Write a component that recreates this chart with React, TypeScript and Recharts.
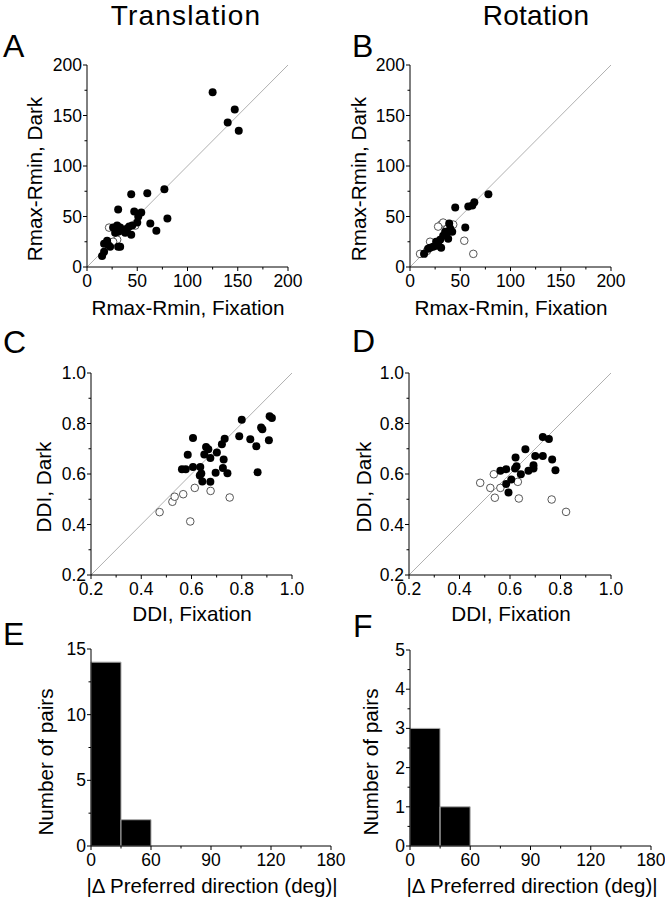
import React from "react";
import { ScatterChart, Scatter, XAxis, YAxis, ReferenceLine, BarChart, Bar } from "recharts";

const FONT = "'Liberation Sans', Arial, Helvetica, sans-serif";

// A: translation, Rmax-Rmin (fixation, dark)
const transAmpFilled = [
  [125, 173], [147, 156], [140, 143], [151, 135], [77, 77], [80, 48], [44, 72], [60, 73],
  [31, 57], [47, 55], [54, 54], [51, 50], [50, 44], [63, 43], [69, 36], [15, 11], [17, 15],
  [17, 23], [20, 26], [23, 20], [31, 20], [33, 20], [26, 39], [30, 41], [31, 35], [35, 37],
  [40, 38], [42, 40], [38, 34], [44, 32], [28, 34], [33, 39], [45, 41], [36, 36], [21, 22], [29, 37],
];
const transAmpOpen = [[22, 39], [30, 27], [48, 41], [26, 25]];

// B: rotation, Rmax-Rmin
const rotAmpFilled = [
  [78, 72], [64, 64], [62, 61], [58, 60], [45, 59], [55, 39], [39, 43], [35, 35], [42, 35],
  [38, 28], [30, 27], [31, 19], [26, 21], [20, 19], [14, 13], [18, 18], [26, 25], [33, 31],
  [36, 33], [23, 20], [28, 22], [40, 38],
];
const rotAmpOpen = [[63, 13], [54, 26], [31, 42], [33, 44], [43, 42], [10, 13], [20, 25], [17, 16], [28, 40]];

// C: translation, DDI
const transDdiFilled = [
  [0.911, 0.829], [0.92, 0.822], [0.8, 0.815], [0.877, 0.784], [0.882, 0.777], [0.79, 0.75],
  [0.834, 0.738], [0.908, 0.734], [0.858, 0.71], [0.863, 0.607], [0.606, 0.743], [0.732, 0.74],
  [0.721, 0.718], [0.658, 0.707], [0.667, 0.698], [0.585, 0.676], [0.651, 0.677], [0.701, 0.685],
  [0.675, 0.663], [0.728, 0.657], [0.562, 0.619], [0.577, 0.619], [0.606, 0.628], [0.635, 0.628],
  [0.725, 0.624], [0.633, 0.594], [0.639, 0.602], [0.696, 0.605], [0.743, 0.603], [0.643, 0.57],
  [0.675, 0.569],
];
const transDdiOpen = [
  [0.473, 0.449], [0.524, 0.49], [0.533, 0.51], [0.567, 0.52], [0.613, 0.545], [0.676, 0.533],
  [0.752, 0.507], [0.595, 0.412],
];

// D: rotation, DDI
const rotDdiFilled = [
  [0.73, 0.747], [0.754, 0.739], [0.661, 0.698], [0.7, 0.671], [0.73, 0.671], [0.767, 0.657],
  [0.78, 0.615], [0.622, 0.665], [0.626, 0.631], [0.62, 0.622], [0.693, 0.635], [0.693, 0.622],
  [0.673, 0.613], [0.643, 0.599], [0.585, 0.619], [0.562, 0.613], [0.605, 0.578], [0.585, 0.56],
  [0.594, 0.527],
];
const rotDdiOpen = [
  [0.482, 0.565], [0.536, 0.599], [0.522, 0.545], [0.562, 0.545], [0.54, 0.506], [0.631, 0.569],
  [0.635, 0.503], [0.765, 0.499], [0.822, 0.45],
];

const ampTicks = [0, 25, 50, 75, 100, 125, 150, 175, 200];
const ampMajor = [0, 50, 100, 150, 200];
const ddiTicks = [0.2, 0.3, 0.4, 0.5, 0.6, 0.7, 0.8, 0.9, 1.0];
const ddiMajor = [0.2, 0.4, 0.6, 0.8, 1.0];

// E, F: histograms (bins are 30 axis units wide, as drawn)
const histBinCenters = [15, 45, 75, 105, 135, 165, 195, 225];
const transPairs = [14, 2, 0, 0, 0, 0, 0, 0];
const rotPairs = [3, 1, 0, 0, 0, 0, 0, 0];
const histXTicks = [0, 30, 60, 90, 120, 150, 180, 210, 240];
const histXMajor = [0, 60, 120, 180, 240];
const histXLabels = ["0", "60", "90", "120", "180"];
const transCountTicks = [0, 2.5, 5, 7.5, 10, 12.5, 15];
const transCountMajor = [0, 5, 10, 15];
const rotCountTicks = [0, 0.5, 1, 1.5, 2, 2.5, 3, 3.5, 4, 4.5, 5];
const rotCountMajor = [0, 1, 2, 3, 4, 5];

const TICK_FS = 17.5;
const LABEL_FS = 20.7;

const isIn = (list: number[], v: number) => list.some((m) => Math.abs(m - v) < 1e-6);

function makeXTick(major: number[], fmt: (v: number) => string) {
  return (props: any) => {
    const { x, y, payload } = props;
    const v = payload.value;
    const big = isIn(major, v);
    return (
      <g>
        <line x1={x} x2={x} y1={y} y2={y + (big ? 4 : 2.5)} stroke="#000" strokeWidth={1} />
        {big && (
          <text x={x} y={y + 20} textAnchor="middle" fontSize={TICK_FS} fontFamily={FONT} fill="#000">
            {fmt(v)}
          </text>
        )}
      </g>
    );
  };
}

function makeYTick(major: number[], fmt: (v: number) => string) {
  return (props: any) => {
    const { x, y, payload } = props;
    const v = payload.value;
    const big = isIn(major, v);
    return (
      <g>
        <line x1={x - (big ? 4 : 2.5)} x2={x} y1={y} y2={y} stroke="#000" strokeWidth={1} />
        {big && (
          <text x={x - 5} y={y + 6} textAnchor="end" fontSize={TICK_FS} fontFamily={FONT} fill="#000">
            {fmt(v)}
          </text>
        )}
      </g>
    );
  };
}

const Dot = (p: any) => <circle cx={p.cx} cy={p.cy} r={4} fill="#000" />;
const Ring = (p: any) => <circle cx={p.cx} cy={p.cy} r={3.8} fill="#fff" stroke="#444" strokeWidth={0.9} />;

const toPts = (arr: number[][]) => arr.map(([x, y]) => ({ x, y }));

function ScatterPanel({ plot, filled, open, domain, ticks, major, fmt }: any) {
  const [x0, y0, x1, y1] = plot;
  return (
    <div style={{ position: "absolute", left: x0 - 70, top: y0 - 20 }}>
      <ScatterChart width={x1 - x0 + 110} height={y1 - y0 + 60} margin={{ top: 20, right: 40, bottom: 10, left: 20 }}>
        <XAxis
          type="number"
          dataKey="x"
          domain={domain}
          ticks={ticks}
          interval={0}
          height={30}
          tickSize={0}
          tickMargin={0}
          tickLine={false}
          axisLine={{ stroke: "#000", strokeWidth: 1 }}
          tick={makeXTick(major, fmt)}
        />
        <YAxis
          type="number"
          dataKey="y"
          domain={domain}
          ticks={ticks}
          interval={0}
          width={50}
          tickSize={0}
          tickMargin={0}
          tickLine={false}
          axisLine={{ stroke: "#000", strokeWidth: 1 }}
          tick={makeYTick(major, fmt)}
        />
        <ReferenceLine
          segment={[{ x: domain[0], y: domain[0] }, { x: domain[1], y: domain[1] }]}
          stroke="#b0b0b0"
          strokeWidth={1}
        />
        <Scatter data={toPts(open)} shape={Ring} isAnimationActive={false} />
        <Scatter data={toPts(filled)} shape={Dot} isAnimationActive={false} />
      </ScatterChart>
    </div>
  );
}

function HistPanel({ plot, counts, yDomain, yTicks, yMajor }: any) {
  const [x0, y0, x1, y1] = plot;
  const data = histBinCenters.map((c, i) => ({ x: c, n: counts[i] }));
  return (
    <div style={{ position: "absolute", left: x0 - 70, top: y0 - 20 }}>
      <BarChart
        width={x1 - x0 + 110}
        height={y1 - y0 + 60}
        data={data}
        barCategoryGap={0}
        barGap={0}
        margin={{ top: 20, right: 40, bottom: 10, left: 20 }}
      >
        <XAxis
          type="number"
          dataKey="x"
          domain={[0, 240]}
          ticks={histXTicks}
          interval={0}
          height={30}
          tickSize={0}
          tickMargin={0}
          tickLine={false}
          axisLine={{ stroke: "#000", strokeWidth: 1 }}
          tick={makeXTick(histXMajor, (v) => histXLabels[histXMajor.indexOf(v)])}
        />
        <YAxis
          type="number"
          domain={yDomain}
          ticks={yTicks}
          interval={0}
          width={50}
          tickSize={0}
          tickMargin={0}
          tickLine={false}
          axisLine={{ stroke: "#000", strokeWidth: 1 }}
          tick={makeYTick(yMajor, (v) => String(v))}
        />
        <Bar dataKey="n" fill="#000" stroke="#aaa" strokeWidth={1} isAnimationActive={false} />
      </BarChart>
    </div>
  );
}

const T = (props: any) => <text fontFamily={FONT} fill="#000" {...props} />;

export default function App() {
  const amp = (v: number) => String(v);
  const ddi = (v: number) => v.toFixed(1);
  return (
    <div style={{ position: "absolute", left: 0, top: 0, width: 665, height: 900, background: "#fff" }}>
      <ScatterPanel plot={[87, 65, 288, 267]} filled={transAmpFilled} open={transAmpOpen} domain={[0, 200]} ticks={ampTicks} major={ampMajor} fmt={amp} />
      <ScatterPanel plot={[410, 65, 611, 267]} filled={rotAmpFilled} open={rotAmpOpen} domain={[0, 200]} ticks={ampTicks} major={ampMajor} fmt={amp} />
      <ScatterPanel plot={[91, 373, 292, 575]} filled={transDdiFilled} open={transDdiOpen} domain={[0.2, 1.0]} ticks={ddiTicks} major={ddiMajor} fmt={ddi} />
      <ScatterPanel plot={[409, 373, 611, 575]} filled={rotDdiFilled} open={rotDdiOpen} domain={[0.2, 1.0]} ticks={ddiTicks} major={ddiMajor} fmt={ddi} />
      <HistPanel plot={[91, 649, 331, 846]} counts={transPairs} yDomain={[0, 15]} yTicks={transCountTicks} yMajor={transCountMajor} />
      <HistPanel plot={[410, 650, 651, 846]} counts={rotPairs} yDomain={[0, 5]} yTicks={rotCountTicks} yMajor={rotCountMajor} />

      <svg width={665} height={900} style={{ position: "absolute", left: 0, top: 0, pointerEvents: "none" }}>
        <T x={186} y={25} fontSize={28} textAnchor="middle" letterSpacing={1.2}>Translation</T>
        <T x={536} y={25} fontSize={28} textAnchor="middle" letterSpacing={0.3}>Rotation</T>

        <T x={3} y={57} fontSize={32}>A</T>
        <T x={352} y={57} fontSize={32}>B</T>
        <T x={3} y={353} fontSize={32}>C</T>
        <T x={352} y={352} fontSize={32}>D</T>
        <T x={3} y={645} fontSize={32}>E</T>
        <T x={353} y={637} fontSize={32}>F</T>

        <T x={188} y={315} fontSize={LABEL_FS} textAnchor="middle">Rmax-Rmin, Fixation</T>
        <T x={511} y={315} fontSize={LABEL_FS} textAnchor="middle">Rmax-Rmin, Fixation</T>
        <T x={192} y={621} fontSize={LABEL_FS} textAnchor="middle">DDI, Fixation</T>
        <T x={511} y={621} fontSize={LABEL_FS} textAnchor="middle">DDI, Fixation</T>
        <T x={212} y={893} fontSize={20.5} textAnchor="middle">|Δ Preferred direction (deg)|</T>
        <T x={532} y={893} fontSize={20.5} textAnchor="middle">|Δ Preferred direction (deg)|</T>

        <T transform="translate(42,179) rotate(-90)" fontSize={LABEL_FS} textAnchor="middle">Rmax-Rmin, Dark</T>
        <T transform="translate(366,179) rotate(-90)" fontSize={LABEL_FS} textAnchor="middle">Rmax-Rmin, Dark</T>
        <T transform="translate(51,487) rotate(-90)" fontSize={LABEL_FS} textAnchor="middle">DDI, Dark</T>
        <T transform="translate(371,487) rotate(-90)" fontSize={LABEL_FS} textAnchor="middle">DDI, Dark</T>
        <T transform="translate(53,762) rotate(-90)" fontSize={LABEL_FS} textAnchor="middle">Number of pairs</T>
        <T transform="translate(378,762) rotate(-90)" fontSize={LABEL_FS} textAnchor="middle">Number of pairs</T>
      </svg>
    </div>
  );
}
